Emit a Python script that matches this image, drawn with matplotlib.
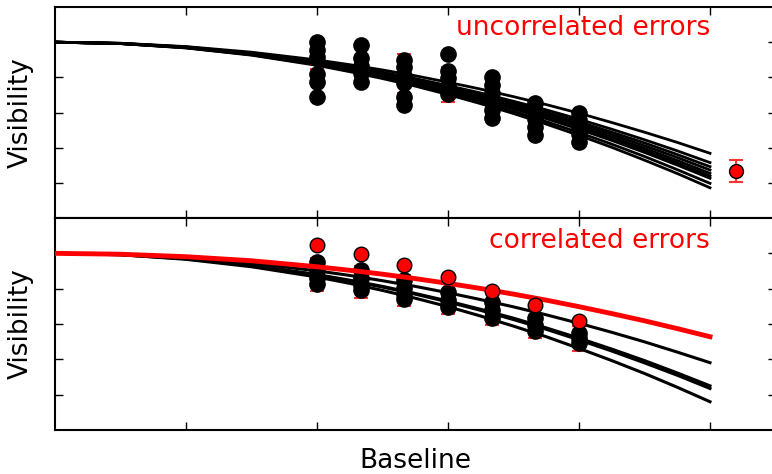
import matplotlib
matplotlib.use("Agg")
import matplotlib.pyplot as plt

# model curve grid (baseline)
curve_x = [0.0, 0.5, 1.0, 1.5, 2.0, 2.25, 2.5, 2.75, 3.0, 3.25, 3.5, 3.75, 4.0, 4.25, 4.5, 4.75, 5.0]

# top panel: fitted curves (uncorrelated errors)
top_curves = [
    [1, .994, .975, .943, .899, .872, .842, .809, .772, .733, .690, .645, .596, .543, .488, .430, .368],
    [1, .993, .973, .938, .890, .861, .829, .793, .753, .711, .664, .615, .562, .505, .445, .382, .315],
    [1, .993, .972, .936, .887, .857, .823, .786, .745, .701, .653, .602, .547, .488, .427, .361, .292],
    [1, .993, .971, .935, .884, .853, .818, .780, .738, .693, .644, .591, .535, .475, .411, .344, .273],
    [1, .993, .970, .933, .881, .849, .814, .774, .731, .685, .634, .580, .523, .461, .396, .327, .254],
    [1, .992, .970, .932, .878, .846, .810, .770, .726, .678, .627, .572, .513, .450, .384, .313, .239],
    [1, .992, .969, .930, .876, .843, .807, .766, .721, .673, .621, .565, .505, .441, .373, .301, .226],
    [1, .992, .968, .928, .872, .837, .799, .757, .711, .661, .607, .548, .486, .420, .350, .275, .197],
    [1, .992, .967, .926, .868, .832, .793, .750, .702, .650, .594, .534, .470, .402, .329, .253, .172],
]

# bottom panel: fitted curves (correlated errors)
bottom_curves = [
    [1, .994, .975, .944, .901, .875, .845, .813, .777, .738, .697, .652, .604, .553, .499, .441, .381],
    [1, .993, .970, .933, .880, .848, .813, .773, .730, .683, .633, .578, .520, .458, .393, .323, .250],
    [1, .992, .969, .931, .878, .845, .809, .769, .725, .677, .625, .570, .510, .447, .380, .310, .235],
    [1, .992, .966, .924, .866, .830, .790, .746, .698, .645, .588, .528, .462, .393, .320, .242, .160],
]
bottom_red_curve = [1, .995, .981, .958, .924, .904, .882, .857, .830, .801, .769, .735, .698, .659, .618, .574, .528]

# measured baselines
meas_x = [2.0, 2.333, 2.667, 3.0, 3.333, 3.667, 4.0]

# top panel: simulated points and mean with errors
top_samples = [
    [1.0, 0.955, 0.915, 0.82, 0.773, 0.688],
    [0.983, 0.909, 0.864, 0.824, 0.773],
    [0.898, 0.858, 0.807, 0.767, 0.688, 0.642],
    [0.932, 0.835, 0.795, 0.75, 0.705],
    [0.80, 0.756, 0.71, 0.665, 0.614, 0.568],
    [0.653, 0.608, 0.563, 0.517, 0.472],
    [0.597, 0.557, 0.517, 0.477, 0.432],
]
top_mean = [0.90, 0.86, 0.82, 0.76, 0.70, 0.60, 0.53]
top_err = [0.05, 0.06, 0.11, 0.10, 0.09, 0.07, 0.05]

# extra long-baseline point
new_x = [5.2]
new_y = [0.267]
new_err = [0.063]

# bottom panel
bottom_samples = [
    [0.951, 0.905, 0.860, 0.826],
    [0.905, 0.860, 0.821, 0.792],
    [0.849, 0.804, 0.770, 0.741],
    [0.781, 0.736, 0.696],
    [0.724, 0.679, 0.634],
    [0.634, 0.594, 0.560],
    [0.549, 0.521, 0.492],
]
bottom_mean = [0.88, 0.84, 0.79, 0.74, 0.68, 0.60, 0.52]
bottom_err = [0.092, 0.09, 0.09, 0.085, 0.088, 0.082, 0.07]
bottom_red = [1.045, 0.994, 0.934, 0.868, 0.789, 0.707, 0.616]

W, H = 772, 474
fig = plt.figure(figsize=(W / 100, H / 100), dpi=100)
left, right = 55 / W, 775.5 / W
ax1 = fig.add_axes([left, (H - 218) / H, right - left, 211 / H])
ax2 = fig.add_axes([left, (H - 430) / H, right - left, 212 / H])

for ax in (ax1, ax2):
    ax.set_xlim(0, 5.5)
    ax.set_ylim(0, 1.2)
    ax.set_xticks([1, 2, 3, 4, 5])
    ax.set_yticks([0.2, 0.4, 0.6, 0.8, 1.0])
    ax.tick_params(direction='in', top=True, right=True, length=6, width=1,
                   labelbottom=False, labelleft=False)
    for s in ax.spines.values():
        s.set_linewidth(1.5)
    ax.set_ylabel('Visibility', fontsize=19)
    ax.yaxis.set_label_coords(-0.029, 0.5)

# top panel
ax1.errorbar(meas_x, top_mean, yerr=top_err, fmt='o', color='red', ecolor=(1, 0.2, 0.2),
             mec='black', ms=9, capsize=5, elinewidth=1.5, capthick=1.5, zorder=1)
for xv, vals in zip(meas_x, top_samples):
    ax1.plot([xv] * len(vals), vals, 'o', color='black', ms=11, zorder=2)
for c in top_curves:
    ax1.plot(curve_x, c, color='black', lw=2, zorder=3)
ax1.errorbar(new_x, new_y, yerr=new_err, fmt='o', color='red', ecolor=(1, 0.2, 0.2),
             mec='black', ms=10, capsize=5, elinewidth=1.5, capthick=1.5, zorder=4)
ax1.text(5.0, 1.04, 'uncorrelated errors', color='red', fontsize=19,
         ha='right', va='baseline')

# bottom panel
ax2.errorbar(meas_x, bottom_mean, yerr=bottom_err, fmt='o', color='red', ecolor=(1, 0.2, 0.2),
             mec='black', ms=9, capsize=5, elinewidth=1.5, capthick=1.5, zorder=1)
for c in bottom_curves:
    ax2.plot(curve_x, c, color='black', lw=2.2, zorder=2)
for xv, vals in zip(meas_x, bottom_samples):
    ax2.plot([xv] * len(vals), vals, 'o', color='black', ms=11, zorder=3)
ax2.plot(curve_x, bottom_red_curve, color='red', lw=3.5, zorder=4)
ax2.plot(meas_x, bottom_red, 'o', color='red', mec='black', mew=1, ms=10.5, zorder=5)
ax2.text(5.0, 1.028, 'correlated errors', color='red', fontsize=19,
         ha='right', va='baseline')
ax2.set_xlabel('Baseline', fontsize=19, labelpad=13)

fig.savefig('out.png', dpi=100)
